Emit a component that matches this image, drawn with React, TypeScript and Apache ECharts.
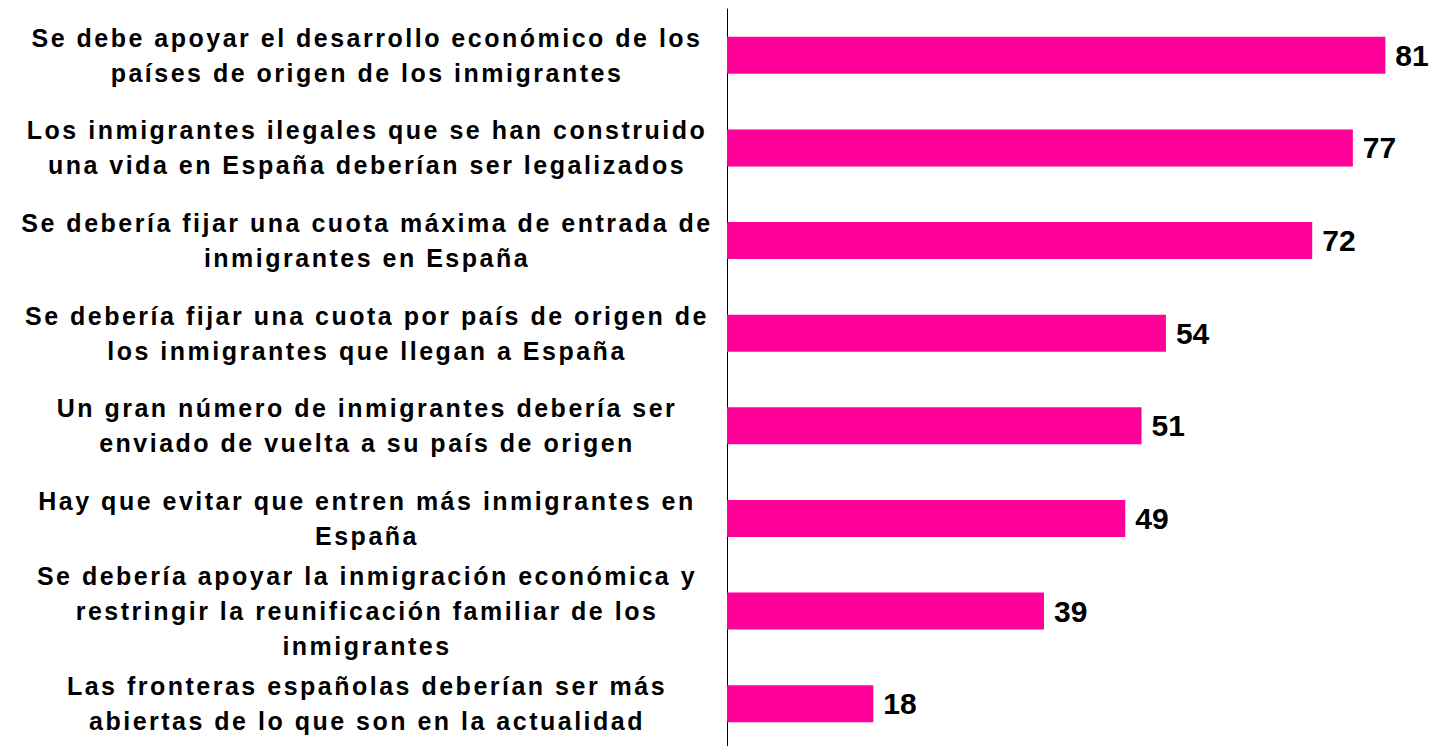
import React, { useEffect, useRef } from "react";
import * as echarts from "echarts";

const categories: string[] = [
  "Se debe apoyar el desarrollo económico de los\npaíses de origen de los inmigrantes",
  "Los inmigrantes ilegales que se han construido\nuna vida en España deberían ser legalizados",
  "Se debería fijar una cuota máxima de entrada de\ninmigrantes en España",
  "Se debería fijar una cuota por país de origen de\nlos inmigrantes que llegan a España",
  "Un gran número de inmigrantes debería ser\nenviado de vuelta a su país de origen",
  "Hay que evitar que entren más inmigrantes en\nEspaña",
  "Se debería apoyar la inmigración económica y\nrestringir la reunificación familiar de los\ninmigrantes",
  "Las fronteras españolas deberían ser más\nabiertas de lo que son en la actualidad",
];
const values: number[] = [81, 77, 72, 54, 51, 49, 39, 18];

export default function App() {
  const ref = useRef<HTMLDivElement>(null);
  useEffect(() => {
    if (!ref.current) return;
    const chart = echarts.init(ref.current, null, { renderer: "svg" });
    chart.setOption({
      animation: false,
      backgroundColor: "#ffffff",
      grid: { left: 727, top: 9, width: 699, height: 741, containLabel: false },
      xAxis: {
        type: "value",
        min: 0,
        max: 86,
        show: false,
      },
      yAxis: {
        type: "category",
        inverse: true,
        data: categories,
        axisLine: { show: true, lineStyle: { color: "#000", width: 1 } },
        axisTick: { show: false },
        axisLabel: {
          align: "center",
          margin: 360,
          color: "#000",
          fontFamily: "Liberation Sans, Arial, sans-serif",
          fontWeight: "bold",
          fontSize: 25,
          lineHeight: 35,
        },
      },
      series: [
        {
          type: "bar",
          data: values,
          barWidth: 37,
          itemStyle: { color: "#FF0099" },
          label: {
            show: true,
            position: "right",
            distance: 10,
            color: "#000",
            fontFamily: "Liberation Sans, Arial, sans-serif",
            fontWeight: "bold",
            fontSize: 30,
          },
        },
      ],
    });
    return () => chart.dispose();
  }, []);
  return (
    <>
      <style>{`svg text[style*="25px"] { letter-spacing: 2.5px; }`}</style>
      <div
        ref={ref}
        style={{ position: "fixed", left: 0, top: 0, width: 1432, height: 760 }}
      />
    </>
  );
}
